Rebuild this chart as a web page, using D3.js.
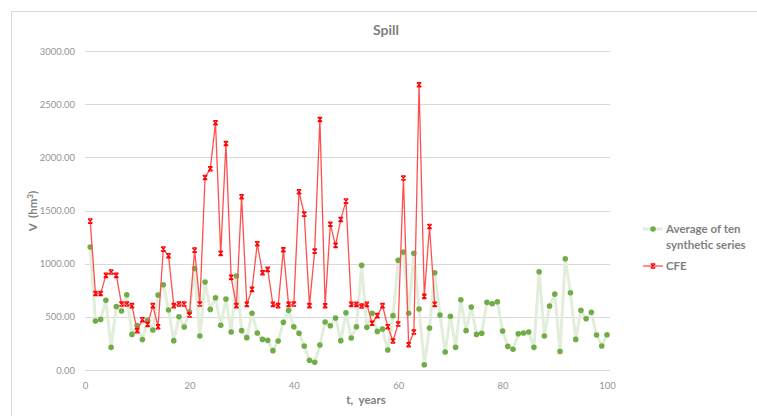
<!DOCTYPE html>
<html><head><meta charset="utf-8">
<script src="https://cdn.jsdelivr.net/npm/d3@7/dist/d3.min.js"></script>
<style>body{margin:0;background:#fff;}svg{display:block;font-family:Lato,"Open Sans",sans-serif;} text{white-space:pre;}</style>
</head><body><svg id="c" width="757" height="416"></svg>
<script>
const years = d3.range(1, 101);
const avgSynthetic = [1156,460,476,655,213,597,555,708,335,418,286,468,376,705,802,564,276,501,404,545,955,320,827,570,680,420,667,357,884,370,304,533,348,288,279,182,273,448,561,407,345,226,91,72,235,451,416,489,276,539,301,407,984,401,533,363,385,188,511,1031,1109,533,1097,573,50,395,915,517,169,506,213,660,370,592,335,345,636,623,642,367,222,194,341,348,357,213,924,320,602,714,175,1046,727,288,561,482,542,329,226,332];
const cfe = [1400,720,720,890,921,890,620,620,605,370,473,429,605,407,1137,1075,605,620,620,517,1127,620,1811,1892,2325,1097,2130,871,605,1629,617,758,1187,915,946,617,605,1131,617,620,1676,1466,605,1118,2356,604,1370,1172,1416,1588,617,617,602,617,439,511,605,407,273,432,1805,238,357,2682,692,1350,617];
const yTicks = [0,500,1000,1500,2000,2500,3000];
const xTicks = [0,20,40,60,80,100];
const seriesNames = ["Average of ten", "synthetic series", "CFE"];

const svg = d3.select("#c");
svg.append("rect").attr("x",11.5).attr("y",11.5).attr("width",800).attr("height",500)
  .attr("fill","none").attr("stroke","#d9d9d9");

const x = d3.scaleLinear().domain([0,100]).range([85,607]);
const y = d3.scaleLinear().domain([0,3000]).range([370,51]);

svg.append("g").selectAll("line").data(yTicks).join("line")
  .attr("x1",85).attr("x2",610).attr("y1",d=>Math.round(y(d))+0.5).attr("y2",d=>Math.round(y(d))+0.5)
  .attr("stroke","#d9d9d9").attr("stroke-width",1);

const yAxis = d3.axisLeft(y).tickValues(yTicks).tickFormat(d3.format(".2f")).tickSize(0).tickPadding(10);
const ga = svg.append("g").attr("transform","translate(75,0)").call(yAxis);
ga.select(".domain").remove();
ga.selectAll("text").attr("fill","#959595").style("font-size","9.5px").style("font-family","Lato,'Open Sans',sans-serif").attr("x",0);

const xAxis = d3.axisBottom(x).tickValues(xTicks).tickSize(0).tickPadding(0);
const gx = svg.append("g").attr("transform","translate(0,382)").call(xAxis);
gx.select(".domain").remove();
gx.selectAll("text").attr("fill","#959595").style("font-size","9.5px").style("font-family","Lato,'Open Sans',sans-serif");

const gData = years.map((t,i)=>[t, avgSynthetic[i]]);
svg.append("path").datum(gData)
  .attr("d", d3.line().x(d=>x(d[0])).y(d=>y(d[1])))
  .attr("fill","none").attr("stroke","#e2eedb").attr("stroke-width",3).attr("stroke-linejoin","round");
svg.append("g").selectAll("circle").data(gData).join("circle")
  .attr("cx",d=>x(d[0])).attr("cy",d=>y(d[1])).attr("r",2.8).attr("fill","#70ad47");

const rData = cfe.map((v,i)=>[years[i], v]);
svg.append("path").datum(rData)
  .attr("d", d3.line().x(d=>x(d[0])).y(d=>y(d[1])))
  .attr("fill","none").attr("stroke","#ff5050").attr("stroke-width",1.3).attr("stroke-linejoin","round");
const mk = "M-2.2,-2.2L2.2,2.2M-2.2,2.2L2.2,-2.2M-2.2,-2.2L2.2,-2.2M-2.2,2.2L2.2,2.2";
svg.append("g").selectAll("path").data(rData).join("path")
  .attr("transform",d=>`translate(${x(d[0])},${y(d[1])})`)
  .attr("d",mk).attr("stroke","#ff0000").attr("stroke-width",1.2).attr("fill","none");

svg.append("text").attr("x",386).attr("y",35).attr("text-anchor","middle")
  .attr("fill","#7f7f7f").style("font-size","14px").style("font-weight","bold").text("Spill");
svg.append("text").attr("x",366).attr("y",404).attr("text-anchor","middle")
  .attr("fill","#7f7f7f").style("font-size","11.5px").style("font-weight","bold").text("t,  years");
svg.append("text").attr("transform","translate(37,211) rotate(-90)").attr("text-anchor","middle")
  .attr("fill","#7f7f7f").style("font-size","11.5px").style("font-weight","bold")
  .html('V  (hm<tspan dy="-4" style="font-size:8px">3</tspan><tspan dy="4">)</tspan>');

const lg = svg.append("g");
lg.append("line").attr("x1",643).attr("x2",663).attr("y1",229).attr("y2",229).attr("stroke","#e2eedb").attr("stroke-width",3);
lg.append("circle").attr("cx",653).attr("cy",229).attr("r",2.8).attr("fill","#70ad47");
lg.append("text").attr("x",666).attr("y",233).attr("fill","#7f7f7f").style("font-size","11.5px").style("font-weight","bold").text(seriesNames[0]);
lg.append("text").attr("x",666).attr("y",249).attr("fill","#7f7f7f").style("font-size","11.5px").style("font-weight","bold").text(seriesNames[1]);
lg.append("line").attr("x1",643).attr("x2",663).attr("y1",266).attr("y2",266).attr("stroke","#ff5050").attr("stroke-width",1.3);
lg.append("path").attr("transform","translate(653,266)").attr("d",mk).attr("stroke","#ff0000").attr("stroke-width",1.2).attr("fill","none");
lg.append("text").attr("x",666).attr("y",270).attr("fill","#7f7f7f").style("font-size","11.5px").style("font-weight","bold").text(seriesNames[2]);
</script></body></html>
